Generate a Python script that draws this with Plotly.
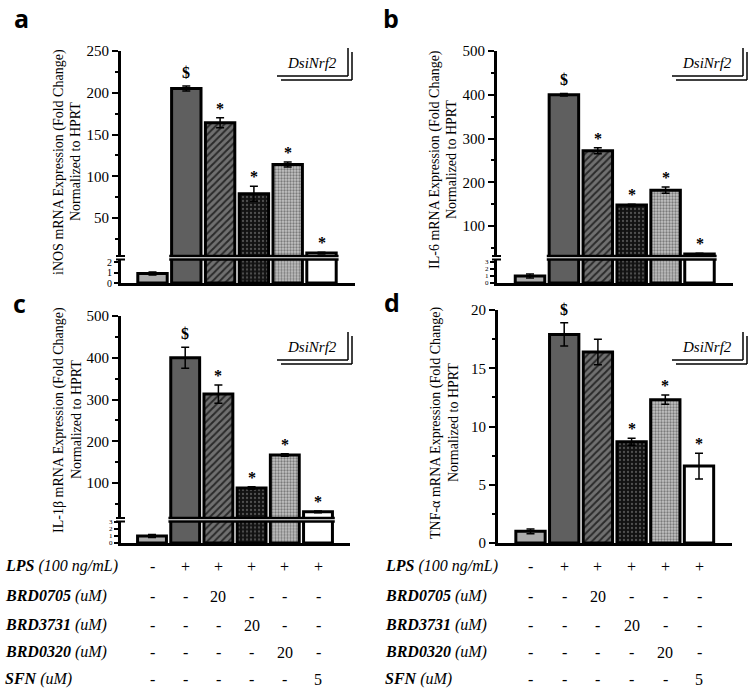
import plotly.graph_objects as go

W, H = 749, 696

def fx(px):
    return px / W

def fy(py):
    return 1 - py / H

# ---------------- data ----------------
groups = ["Control", "LPS", "LPS+BRD0705", "LPS+BRD3731", "LPS+BRD0320", "LPS+SFN"]
idx = list(range(len(groups)))

inos = [0.9, 205, 164, 79, 114, 8]
inos_err = [0.15, 3, 6, 9, 3, 1]
il6 = [1.0, 400, 272, 148, 182, 36]
il6_err = [0.3, 3, 7, 2, 7, 2]
il1b = [1.0, 400, 313, 88, 167, 31]
il1b_err = [0.2, 25, 22, 3, 3, 2]
tnf = [1.0, 17.9, 16.4, 8.7, 12.3, 6.6]
tnf_err = [0.2, 1.0, 1.1, 0.3, 0.4, 1.1]

sig_abc = ["", "$", "*", "*", "*", "*"]
sig_d = ["", "$", "", "*", "*", "*"]

titles = ["iNOS mRNA Expression (Fold Change)",
          "IL-6 mRNA Expression (Fold Change)",
          "IL-1β mRNA Expression (Fold Change)",
          "TNF-α mRNA Expression (Fold Change)"]
subtitle = "Normalized to HPRT"
panel_letters = ["a", "b", "c", "d"]
legend_text = "DsiNrf2"

row_names = ["LPS", "BRD0705", "BRD3731", "BRD0320", "SFN"]
row_units = ["(100 ng/mL)", "(uM)", "(uM)", "(uM)", "(uM)"]
row_values = [
    ["-", "+", "+", "+", "+", "+"],
    ["-", "-", "20", "-", "-", "-"],
    ["-", "-", "-", "20", "-", "-"],
    ["-", "-", "-", "-", "20", "-"],
    ["-", "-", "-", "-", "-", "5"],
]

# ---------------- styles ----------------
bar_colors = ["#ababab", "#5f5f5f", "#707070", "#121212", "#c4c4c4", "#ffffff"]
pat_shapes = ["", "", "/", ".", ".", ""]
pat_fg = ["#000000", "#000000", "#2a2a2a", "#505050", "#7a7a7a", "#000000"]
pat_size = [6, 6, 5, 4, 3, 6]
pat_sol = [0.3, 0.3, 0.4, 0.25, 0.45, 0.3]

SERIF = "Times New Roman, Liberation Serif, DejaVu Serif, serif"
SANS = "Open Sans, Liberation Sans, DejaVu Sans, sans-serif"
BAR_W = 0.87

def add_bars(vals, errs, xa, ya):
    for j in idx:
        pat = dict(shape=pat_shapes[j], fgcolor=pat_fg[j], bgcolor=bar_colors[j],
                   size=pat_size[j], solidity=pat_sol[j], fillmode="replace")
        fig.add_trace(go.Bar(
            x=[j], y=[vals[j]], xaxis=xa, yaxis=ya, width=BAR_W,
            marker=dict(color=bar_colors[j], line=dict(color="black", width=3), pattern=pat),
            error_y=dict(type="data", array=[errs[j]], visible=True, color="black",
                         thickness=1.5, width=4)))

fig = go.Figure()
layout = dict(template="none", width=W, height=H, margin=dict(l=0, r=0, t=0, b=0, pad=0),
              autosize=False, barmode="overlay",
              paper_bgcolor="white", plot_bgcolor="white", showlegend=False)

yax_common = dict(showline=True, linecolor="black", linewidth=3, ticks="outside",
                  tickcolor="black", tickwidth=2, ticklen=6, showgrid=False,
                  zeroline=False, automargin=False,
                  tickfont=dict(family=SERIF, size=15, color="black"))

panels = [
    dict(name="a", vals=inos, errs=inos_err, sig=sig_abc, left=121, right=355, c0=152.5, sp=33.8,
         top=51, bottom=283, brk_hi=256, brk_lo=259.5, up_top=250, up_k=0.835, lo_k=10.5,
         major=50, minor=25, lo_ticks=[0, 1, 2], lo_font=10, tcy=162, legy=63, legx=312, lab=(21, 18)),
    dict(name="b", vals=il6, errs=il6_err, sig=sig_abc, left=497, right=733, c0=530, sp=33.9,
         top=51, bottom=283, brk_hi=256, brk_lo=259.5, up_top=500, up_k=0.4375, lo_k=7.0,
         major=100, minor=50, lo_ticks=[0, 1, 2, 3], lo_font=7, tcy=160, legy=63, legx=707, lab=(391, 18)),
    dict(name="c", vals=il1b, errs=il1b_err, sig=sig_abc, left=121, right=350, c0=152, sp=33.2,
         top=316, bottom=543, brk_hi=518, brk_lo=521.5, up_top=500, up_k=0.4175, lo_k=7.0,
         major=100, minor=50, lo_ticks=[0, 1, 2, 3], lo_font=7, tcy=420, legy=347, legx=312, lab=(19, 303)),
    dict(name="d", vals=tnf, errs=tnf_err, sig=sig_d, left=498, right=732, c0=530.5, sp=33.7,
         top=310, bottom=543, up_top=20, major=5, minor=2.5, tcy=423, legy=347, legx=707, lab=(392, 302)),
]

annotations = []
shapes = []

def ann(**kw):
    base = dict(showarrow=False, xanchor="center", yanchor="middle")
    base.update(kw)
    annotations.append(base)

for i, p in enumerate(panels):
    n = i + 1
    xa = "x" if n == 1 else f"x{n}"
    ya_up = "y" if n == 1 else f"y{n}"
    xr = [(p["left"] - p["c0"]) / p["sp"], (p["right"] - p["c0"]) / p["sp"]]
    xax = dict(domain=[fx(p["left"]), fx(p["right"])], range=xr,
               showline=True, linecolor="black", linewidth=3, ticks="",
               showticklabels=False, showgrid=False, zeroline=False, automargin=False)
    yup = dict(dtick=p["major"], tick0=0,
               minor=dict(dtick=p["minor"], tick0=0, ticks="outside", ticklen=3, tickwidth=2,
                          tickcolor="black"),
               anchor=xa, **yax_common)
    if p["name"] != "d":
        lo_n = n + 4
        ya_lo = f"y{lo_n}"
        up_low = p["up_top"] - (p["brk_hi"] - p["top"]) / p["up_k"]
        lo_high = (p["bottom"] - p["brk_lo"]) / p["lo_k"]
        add_bars(p["vals"], p["errs"], xa, ya_up)
        add_bars(p["vals"], p["errs"], xa, ya_lo)
        xax["anchor"] = ya_lo
        layout["xaxis" if n == 1 else f"xaxis{n}"] = xax
        yup["domain"] = [fy(p["brk_hi"]), fy(p["top"])]
        yup["range"] = [up_low, p["up_top"]]
        layout["yaxis" if n == 1 else f"yaxis{n}"] = yup
        lo_common = dict(yax_common)
        lo_common["tickfont"] = dict(family=SERIF, size=p["lo_font"], color="black")
        lo_common["ticklen"] = 4
        layout[f"yaxis{lo_n}"] = dict(
            domain=[fy(p["bottom"]), fy(p["brk_lo"])], range=[0, lo_high], anchor=xa,
            tickvals=p["lo_ticks"], **lo_common)
        for yy in (p["brk_hi"], p["brk_lo"]):
            shapes.append(dict(type="line", xref="paper", yref="paper",
                               x0=fx(p["left"] - 5), x1=fx(p["left"] + 4), y0=fy(yy), y1=fy(yy),
                               line=dict(color="black", width=2)))
            shapes.append(dict(type="line", xref=xa, yref="paper",
                               x0=1 - BAR_W / 2 - 0.07, x1=5 + BAR_W / 2 + 0.07,
                               y0=fy(yy), y1=fy(yy), line=dict(color="black", width=2.5)))
    else:
        add_bars(p["vals"], p["errs"], xa, ya_up)
        xax["anchor"] = ya_up
        layout[f"xaxis{n}"] = xax
        yup["domain"] = [fy(p["bottom"]), fy(p["top"])]
        yup["range"] = [0, p["up_top"]]
        layout[f"yaxis{n}"] = yup

    for j in idx:
        if p["sig"][j]:
            ann(x=j, y=p["vals"][j] + p["errs"][j], xref=xa, yref=ya_up,
                text=f"<b>{p['sig'][j]}</b>", yanchor="bottom",
                yshift=(3 if p["sig"][j] == "$" else -1),
                font=dict(family=SERIF, size=16, color="black"))

    ann(x=fx(p["left"] - 62), y=fy(p["tcy"]), xref="paper", yref="paper",
        text=titles[i], textangle=-90, font=dict(family=SERIF, size=14, color="black"))
    ann(x=fx(p["left"] - 45), y=fy(p["tcy"]), xref="paper", yref="paper",
        text=subtitle, textangle=-90, font=dict(family=SERIF, size=14, color="black"))
    ann(x=fx(p["lab"][0]), y=fy(p["lab"][1]), xref="paper", yref="paper",
        text=f"<b>{panel_letters[i]}</b>", font=dict(family=SANS, size=25, color="black"))
    cx, cy = p["legx"], p["legy"]
    ann(x=fx(cx), y=fy(cy), xref="paper", yref="paper",
        text=f"<i>{legend_text}</i>", font=dict(family=SERIF, size=15, color="black"))
    for off in (0, 4):
        shapes.append(dict(type="line", xref="paper", yref="paper",
                           x0=fx(cx + 36 + off), x1=fx(cx + 36 + off),
                           y0=fy(cy - 15 + off), y1=fy(cy + 13 + off),
                           line=dict(color="black", width=1.5)))
        shapes.append(dict(type="line", xref="paper", yref="paper",
                           x0=fx(cx - 35 + off), x1=fx(cx + 36 + off),
                           y0=fy(cy + 13 + off), y1=fy(cy + 13 + off),
                           line=dict(color="black", width=1.5)))

row_y = [566, 596, 625, 652, 679]
for xa, lx in [("x3", 3), ("x4", 383)]:
    for r, name in enumerate(row_names):
        ann(x=fx(lx), y=fy(row_y[r]), xref="paper", yref="paper", xanchor="left",
            text=f"<b><i>{name}</i></b><i> {row_units[r]}</i>",
            font=dict(family=SERIF, size=16, color="black"))
        for j in idx:
            ann(x=j, y=fy(row_y[r]), xref=xa, yref="paper", text=row_values[r][j],
                font=dict(family=SERIF, size=16, color="black"))

layout["annotations"] = annotations
layout["shapes"] = shapes
fig.update_layout(**layout)
fig.write_html("out.html", config={"displayModeBar": False},
               post_script="document.body.style.margin='0px';")
